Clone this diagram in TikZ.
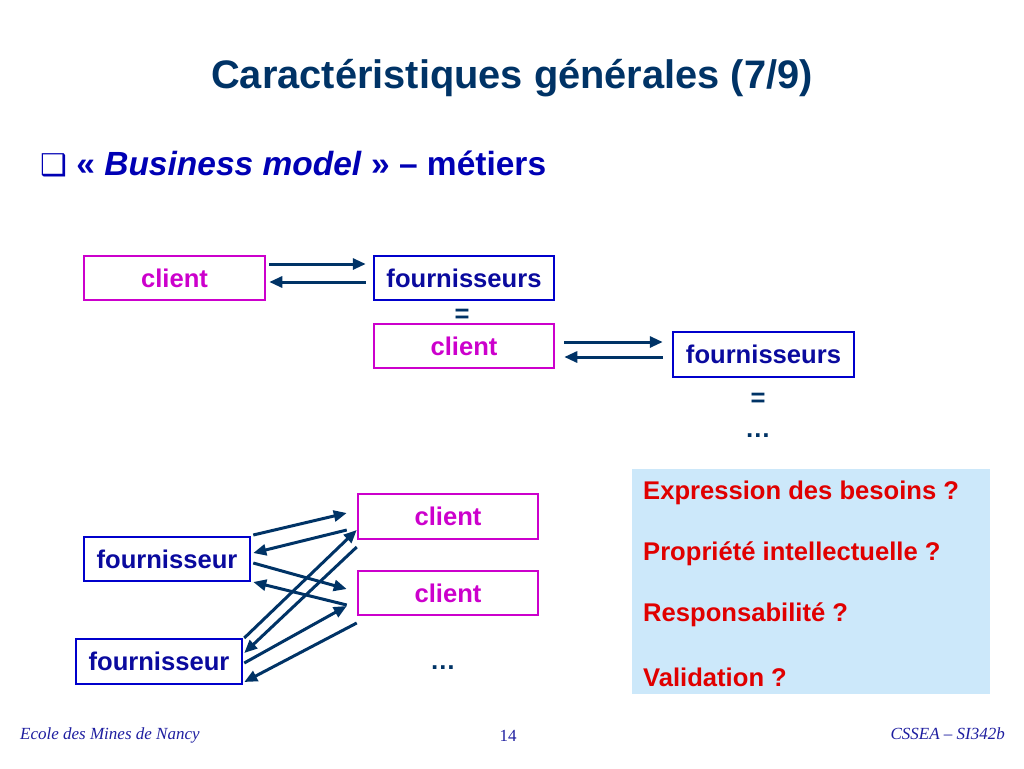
\documentclass[tikz,border=0pt]{standalone}
\usepackage{fontspec}
\setmainfont{Liberation Sans}
\newfontfamily\footfont{Liberation Serif}
\newfontfamily\symfont{DejaVu Sans}
\usetikzlibrary{arrows.meta,calc}
\definecolor{navy}{HTML}{003366}
\definecolor{bodyblue}{HTML}{0000B4}
\definecolor{boxblue}{HTML}{0000CC}
\definecolor{fourntext}{HTML}{0A0A9E}
\definecolor{magclient}{HTML}{CC00CC}
\definecolor{paleblue}{HTML}{CCE8FA}
\definecolor{redtext}{HTML}{E00000}
\definecolor{footblue}{HTML}{1E1EA0}
\begin{document}
\begin{tikzpicture}[x=1pt,y=-1pt,
	bodyfont/.style={font=\fontsize{25.6}{30}\selectfont\bfseries},
	clientbox/.style={draw=magclient,line width=2.5pt,text=magclient,minimum width=180pt,minimum height=44pt,inner sep=0pt,bodyfont},
	fournbox/.style={draw=boxblue,line width=2.5pt,text=fourntext,minimum width=166pt,minimum height=44pt,inner sep=0pt,bodyfont},
	flow/.style={navy,line width=3pt,-{Triangle[length=13pt,width=11pt]}},
	question/.style={anchor=west,text=redtext,inner sep=0pt,bodyfont},
	foot/.style={text=footblue,inner sep=0pt,font=\footfont\fontsize{17}{20}\selectfont}]
		\useasboundingbox (0,0) rectangle (1024,768);
		\node [anchor=base,text=navy,inner sep=0pt,font=\fontsize{39.8}{46}\selectfont\bfseries] (title) at (512,88) {Caract\'eristiques g\'en\'erales (7/9)};
		\node [anchor=base west,text=bodyblue,inner sep=0pt,font=\fontsize{33.5}{40}\selectfont\bfseries] (sub) at (40,175) {{\symfont\fontsize{30}{34}\selectfont ❑}\ « \textit{Business model} » -- m\'etiers};
		% chaine client / fournisseurs
		\node [clientbox,minimum width=181pt] (c0) at (174.5,278) {client};
		\node [fournbox,minimum width=180pt] (f0) at (464,278) {fournisseurs};
		\node [text=navy,inner sep=0pt,bodyfont] (eq0) at (462,316) {=};
		\node [clientbox] (c1) at (464,346) {client};
		\node [fournbox,minimum width=181pt,minimum height=45pt] (f1) at (763.5,354.5) {fournisseurs};
		\node [text=navy,inner sep=0pt,bodyfont] (eq1) at (758,400) {=};
		\node [text=navy,inner sep=0pt,bodyfont] (more1) at (758,436) {\dots};
		\draw [flow] ($(c0.east)+(3,-14)$) -- ($(f0.west)+(-7,-14)$);
		\draw [flow] ($(f0.west)+(-7,4)$) -- ($(c0.east)+(3,4)$);
		\draw [flow] ($(c1.east)+(9,-4)$) -- ($(f1.west)+(-9,-12.5)$);
		\draw [flow] ($(f1.west)+(-9,2.5)$) -- ($(c1.east)+(9,11)$);
		% plusieurs fournisseurs, plusieurs clients
		\node [clientbox,minimum height=45pt] (c2) at (448,516.5) {client};
		\node [clientbox] (c3) at (448,593) {client};
		\node [text=navy,inner sep=0pt,bodyfont] (more2) at (443,668) {\dots};
		\node [fournbox] (f2) at (167,559) {fournisseur};
		\node [fournbox,minimum height=45pt] (f3) at (159,661.5) {fournisseur};
		\draw [flow] ($(f2.east)+(2,-24)$) -- ($(c2.west)+(-10,-3.5)$);
		\draw [flow] ($(c2.west)+(-10,13.5)$) -- ($(f2.east)+(2,-6)$);
		\draw [flow] ($(f2.east)+(2,4)$) -- ($(c3.west)+(-10,-4)$);
		\draw [flow] ($(c3.west)+(-10,12)$) -- ($(f2.east)+(2,23)$);
		\draw [flow] ($(f3.east)+(1,-23.5)$) -- ($(c2.west)+(0,13.5)$);
		\draw [flow] ($(c2.west)+(0,30.5)$) -- ($(f3.east)+(1,-8.5)$);
		\draw [flow] ($(f3.east)+(1,1.5)$) -- ($(c3.west)+(-10,13)$);
		\draw [flow] ($(c3.west)+(0,30)$) -- ($(f3.east)+(1,20.5)$);
		% questions
		\fill [paleblue] (632,469) rectangle (990,694);
		\node [question] (q1) at (643,493) {Expression des besoins ?};
		\node [question] (q2) at (643,554) {Propri\'et\'e intellectuelle ?};
		\node [question] (q3) at (643,615) {Responsabilit\'e ?};
		\node [question] (q4) at (643,677) {Validation ?};
		% pied de page
		\node [foot,anchor=base west,font=\footfont\itshape\fontsize{17}{20}\selectfont] (school) at (20,739) {Ecole des Mines de Nancy};
		\node [foot,anchor=base] (page) at (508,741) {14};
		\node [foot,anchor=base east,font=\footfont\itshape\fontsize{17}{20}\selectfont] (course) at (1005,739) {CSSEA – SI342b};
	\end{tikzpicture}
\end{document}
